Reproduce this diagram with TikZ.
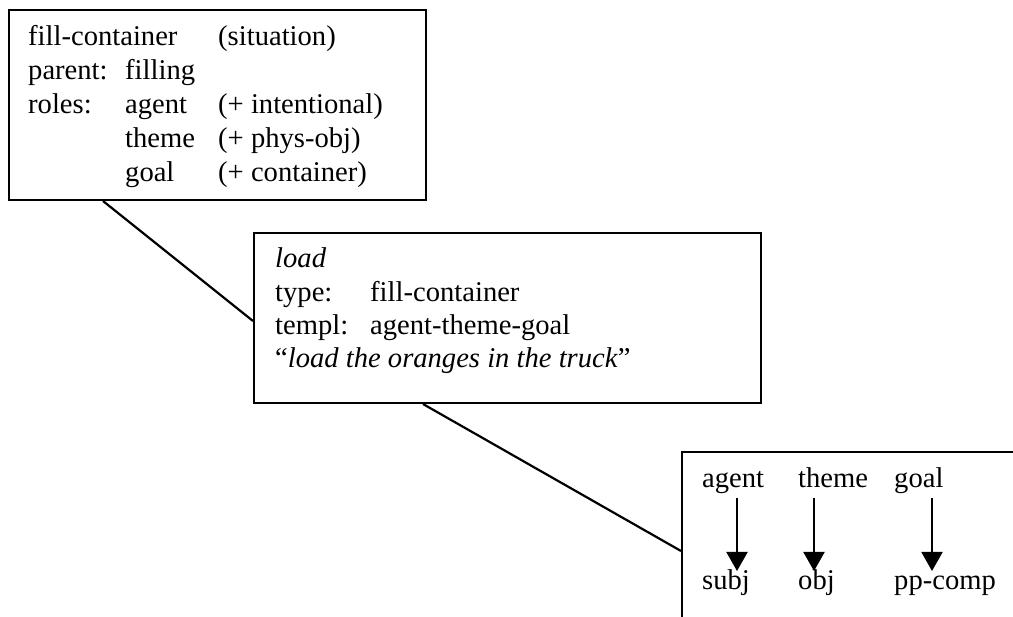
\documentclass[tikz,border=0pt]{standalone}
\usepackage{fontspec}
\setmainfont{Liberation Serif}
\usetikzlibrary{arrows.meta}
\begin{document}
\begin{tikzpicture}[x=1pt,y=-1pt,
  box/.style={draw,line width=2pt,rectangle,inner sep=0pt},
  txt/.style={anchor=base west,inner sep=0pt,font=\fontsize{28.6}{34}\selectfont},
  link/.style={line width=2.2pt},
  maparrow/.style={line width=2pt,-{Triangle[width=21pt,length=19pt]}}]
\useasboundingbox (0,0) rectangle (1013,617);
\clip (0,0) rectangle (1013,617);
% boxes
\node[box,minimum width=417pt,minimum height=190pt] (box1) at (217.5,105) {};
\node[box,minimum width=507pt,minimum height=170pt] (box2) at (507.5,318) {};
\node[box,minimum width=400pt,minimum height=220pt] (box3) at (882,562) {};
% box 1 text
\node[txt] (t11) at (28,46) {fill-container};
\node[txt] (t12) at (218,46) {(situation)};
\node[txt] (t21) at (28,80) {parent:};
\node[txt] (t22) at (125,80) {filling};
\node[txt] (t31) at (28,114) {roles:};
\node[txt] (t32) at (125,114) {agent};
\node[txt] (t33) at (218,114) {(+ intentional)};
\node[txt] (t42) at (125,148) {theme};
\node[txt] (t43) at (218,148) {(+ phys-obj)};
\node[txt] (t52) at (125,182) {goal};
\node[txt] (t53) at (218,182) {(+ container)};
% box 2 text
\node[txt] (u1) at (275,268) {\textit{load}};
\node[txt] (u21) at (275,302) {type:};
\node[txt] (u22) at (370,302) {fill-container};
\node[txt] (u31) at (275,335) {templ:};
\node[txt] (u32) at (370,335) {agent-theme-goal};
\node[txt] (u4) at (275,368) {“\textit{load the oranges in the truck}”};
% box 3 text
\node[txt] (agent) at (702,488) {agent};
\node[txt] (theme) at (798,488) {theme};
\node[txt] (goal) at (894,488) {goal};
\node[txt] (subj) at (702,590) {subj};
\node[txt] (obj) at (798,590) {obj};
\node[txt] (ppcomp) at (894,590) {pp-comp};
% arrows
\coordinate (a1s) at (737,498); \coordinate (a1e) at (737,571);
\coordinate (a2s) at (814,498); \coordinate (a2e) at (814,571);
\coordinate (a3s) at (932,498); \coordinate (a3e) at (932,571);
\draw[maparrow] (a1s) -- (a1e);
\draw[maparrow] (a2s) -- (a2e);
\draw[maparrow] (a3s) -- (a3e);
% connectors
\draw[link] ([xshift=95pt]box1.south west) -- ([yshift=-89pt]box2.north west);
\draw[link] ([xshift=170pt]box2.south west) -- ([yshift=-100pt]box3.north west);
\end{tikzpicture}
\end{document}
